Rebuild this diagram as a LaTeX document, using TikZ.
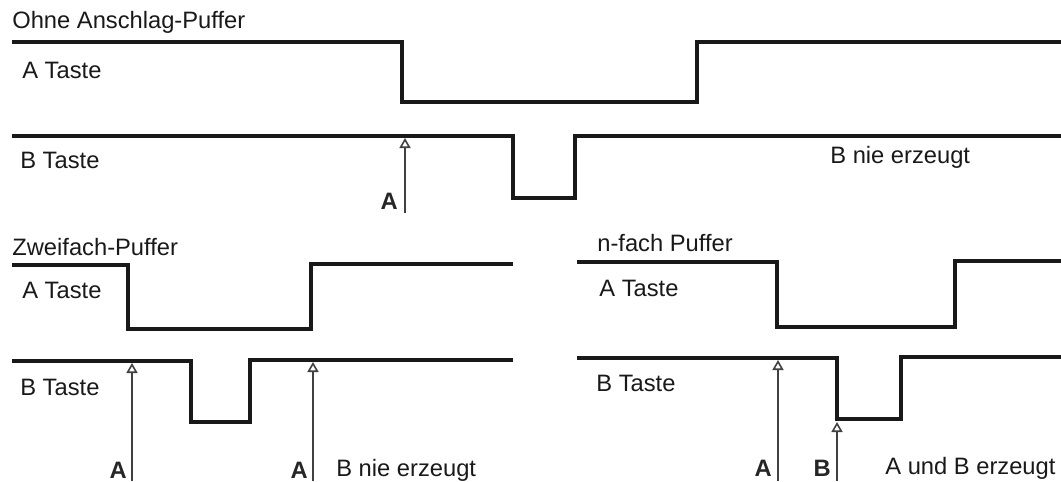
\documentclass[tikz,border=0pt]{standalone}
\usepackage{fontspec}
\setmainfont{Liberation Sans}
\usetikzlibrary{arrows.meta,positioning}
\tikzset{
  signal/.style={line width=2pt, line join=miter, draw=black!90},
  caption/.style={anchor=west, inner sep=0pt, font=\fontsize{13.5}{15}\selectfont, text=black!90},
  keyname/.style={anchor=west, inner sep=0pt, font=\fontsize{13.5}{15}\selectfont, text=black!90},
  marker/.style={anchor=east, inner sep=0pt, font=\fontsize{13.5}{15}\selectfont\bfseries, text=black!85},
  trigger/.style={-{Triangle[open, length=2mm, width=2.2mm, line width=0.9pt]}, line width=0.6pt, draw=black!75}
}

\begin{document}
\begin{tikzpicture}[x=0.02cm, y=-0.02cm]
\useasboundingbox (0,0) rectangle (1061,481);

% ohne Puffer
\node[caption] (title1) at (12,22) {Ohne Anschlag-Puffer};
\node[keyname] (keyA1) at (22,70) {A Taste};
\node[keyname] (keyB1) at (20,160) {B Taste};
\draw[signal] (12,42) -- (402,42) -- (402,102) -- (697,102) -- (697,42) -- (1061,42);
\draw[signal] (12,136) -- (513,136) -- (513,198) -- (575,198) -- (575,136) -- (1061,136);
\coordinate (tipA1) at (405,138);
\coordinate (footA1) at (405,213);
\draw[trigger] (footA1) -- (tipA1);
\node[marker] (markA1) at (398,201) {A};
\node[caption] (note1) at (830,157) {B nie erzeugt};

% Zweifach-Puffer
\node[caption] (title2) at (12,247) {Zweifach-Puffer};
\node[keyname] (keyA2) at (22,290) {A Taste};
\node[keyname] (keyB2) at (20,387) {B Taste};
\draw[signal] (12,265) -- (128,265) -- (128,329) -- (311,329) -- (311,264) -- (513,264);
\draw[signal] (12,361) -- (191,361) -- (191,422) -- (250,422) -- (250,360) -- (513,360);
\coordinate (tipA2) at (132,363);
\coordinate (footA2) at (132,481);
\coordinate (tipA3) at (313,362);
\coordinate (footA3) at (313,481);
\draw[trigger] (footA2) -- (tipA2);
\draw[trigger] (footA3) -- (tipA3);
\node[marker] (markA2) at (127,470) {A};
\node[marker] (markA3) at (308,470) {A};
\node[caption] (note2) at (336,470) {B nie erzeugt};

% n-fach Puffer
\node[caption] (title3) at (597,243) {n-fach Puffer};
\node[keyname] (keyA3) at (599,288) {A Taste};
\node[keyname] (keyB3) at (596,383) {B Taste};
\draw[signal] (577,262) -- (777,262) -- (777,327) -- (955,327) -- (955,261) -- (1061,261);
\draw[signal] (577,358) -- (837,358) -- (837,419) -- (901,419) -- (901,357) -- (1061,357);
\coordinate (tipA4) at (778,360);
\coordinate (footA4) at (778,481);
\coordinate (tipB4) at (837,422);
\coordinate (footB4) at (837,481);
\draw[trigger] (footA4) -- (tipA4);
\draw[trigger] (footB4) -- (tipB4);
\node[marker] (markA4) at (772,468) {A};
\node[marker] (markB4) at (831,468) {B};
\node[caption] (note3) at (885,468) {A und B erzeugt};
\end{tikzpicture}
\end{document}
